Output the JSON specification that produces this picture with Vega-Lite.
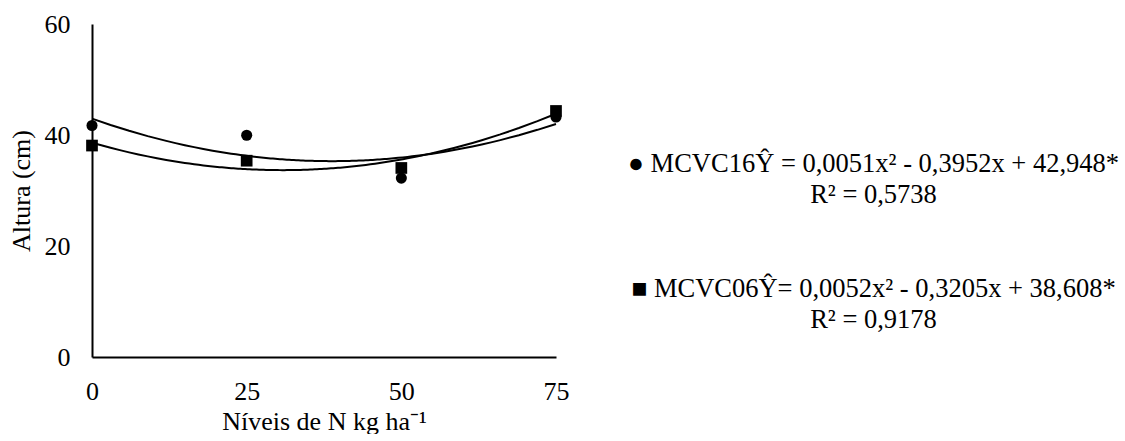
{
  "$schema": "https://vega.github.io/schema/vega-lite/v6.json",
  "background": "white",
  "padding": {"left": 8, "top": 11, "right": 0, "bottom": 0},
  "config": {
    "font": "Times New Roman, Liberation Serif, serif",
    "view": {"stroke": null},
    "concat": {"spacing": 20}
  },
  "bounds": "flush",
  "datasets": {
    "alturas": [
      {"series": "MCVC16", "dose": 0, "altura": 41.71},
      {"series": "MCVC16", "dose": 25, "altura": 39.96},
      {"series": "MCVC16", "dose": 50, "altura": 32.23},
      {"series": "MCVC16", "dose": 75, "altura": 43.23},
      {"series": "MCVC06", "dose": 0, "altura": 38.10},
      {"series": "MCVC06", "dose": 25, "altura": 35.37},
      {"series": "MCVC06", "dose": 50, "altura": 34.06},
      {"series": "MCVC06", "dose": 75, "altura": 44.33}
    ],
    "equacoes": [
      {"series": "MCVC16", "lines": ["● MCVC16Ŷ = 0,0051x² - 0,3952x + 42,948*", "R² = 0,5738"]},
      {"series": "MCVC06", "lines": ["■ MCVC06Ŷ= 0,0052x² - 0,3205x + 38,608*", "R² = 0,9178"]}
    ]
  },
  "hconcat": [
    {
      "width": 464,
      "height": 333,
      "data": {"name": "alturas"},
      "layer": [
        {
          "transform": [
            {"regression": "altura", "on": "dose", "groupby": ["series"], "method": "poly", "order": 2, "extent": [0, 75]}
          ],
          "mark": {"type": "line", "color": "black", "strokeWidth": 2},
          "encoding": {
            "x": {"field": "dose", "type": "quantitative"},
            "y": {"field": "altura", "type": "quantitative"},
            "detail": {"field": "series"}
          }
        },
        {
          "mark": {"type": "point", "filled": true, "color": "black", "opacity": 1, "strokeWidth": 0},
          "encoding": {
            "x": {
              "field": "dose", "type": "quantitative",
              "scale": {"domain": [0, 75], "nice": false},
              "axis": {
                "title": "Níveis de N kg ha⁻¹",
                "values": [0, 25, 50, 75],
                "ticks": false, "grid": false,
                "domainColor": "black", "domainWidth": 2,
                "labelFlush": false,
                "labelFont": "Times New Roman, Liberation Serif, serif", "labelFontSize": 26, "labelColor": "black", "labelPadding": 21,
                "titleFont": "Times New Roman, Liberation Serif, serif", "titleFontSize": 26, "titleFontWeight": "normal", "titleColor": "black", "titlePadding": 4
              }
            },
            "y": {
              "field": "altura", "type": "quantitative",
              "scale": {"domain": [0, 60], "nice": false},
              "axis": {
                "title": "Altura (cm)",
                "values": [0, 20, 40, 60],
                "ticks": false, "grid": false,
                "domainColor": "black", "domainWidth": 2,
                "labelFont": "Times New Roman, Liberation Serif, serif", "labelFontSize": 26, "labelColor": "black", "labelPadding": 22,
                "titleFont": "Times New Roman, Liberation Serif, serif", "titleFontSize": 26, "titleFontWeight": "normal", "titleColor": "black", "titlePadding": 10
              }
            },
            "shape": {
              "field": "series", "type": "nominal",
              "scale": {"domain": ["MCVC16", "MCVC06"], "range": ["circle", "square"]},
              "legend": null
            },
            "size": {
              "field": "series", "type": "nominal",
              "scale": {"domain": ["MCVC16", "MCVC06"], "range": [123, 137]},
              "legend": null
            }
          }
        }
      ]
    },
    {
      "width": 595,
      "height": 405,
      "data": {"name": "equacoes"},
      "mark": {"type": "text", "font": "Times New Roman, Liberation Serif, serif", "fontSize": 26.5, "color": "black", "align": "center", "baseline": "middle", "lineHeight": 31},
      "encoding": {
        "y": {
          "field": "series", "type": "nominal",
          "scale": {"type": "band", "domain": ["MCVC16", "MCVC06"], "paddingInner": 0, "paddingOuter": 0.62},
          "axis": null
        },
        "text": {"field": "lines"}
      }
    }
  ]
}
